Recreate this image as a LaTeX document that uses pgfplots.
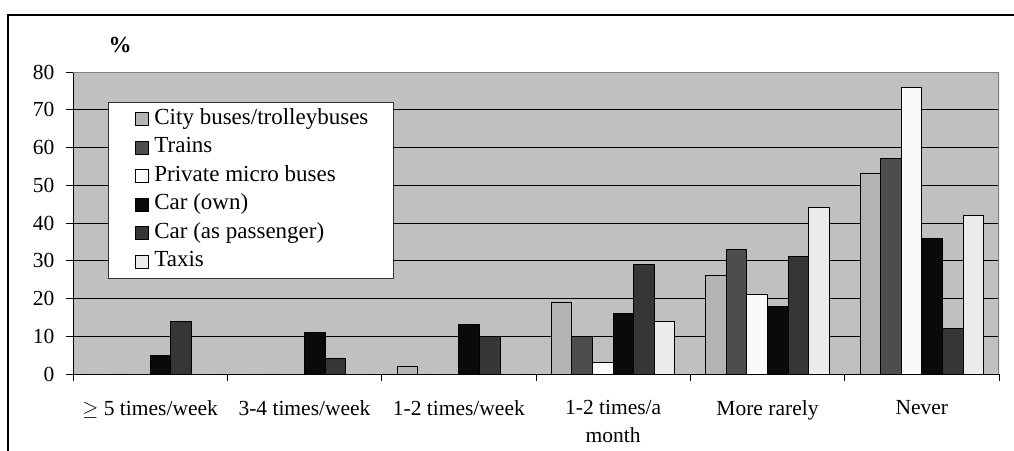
\documentclass[border=0pt]{standalone}
\usepackage{pgfplots}
\pgfplotsset{compat=1.18}
\usepackage{fontspec}
\setmainfont{Liberation Serif}

\definecolor{plotbg}{HTML}{C0C0C0}
\definecolor{cCity}{HTML}{B4B4B4}
\definecolor{cTrain}{HTML}{4D4D4D}
\definecolor{cPriv}{HTML}{FAFAFA}
\definecolor{cOwn}{HTML}{0A0A0A}
\definecolor{cPass}{HTML}{363636}
\definecolor{cTaxi}{HTML}{EBEBEB}

\newcommand{\chartfont}{\fontsize{21.5bp}{28bp}\selectfont}
\newcommand{\legfont}{\fontsize{23bp}{28bp}\selectfont}

\pgfplotsset{
  sqlegend/.style={legend image code/.code={
    \path[draw=none, fill=none] (0bp,0bp) -- (43bp,0bp);
    \draw[##1, line width=0.8bp] (27bp,-6.5bp) rectangle (40bp,6.5bp);}},
}

\begin{document}
\begin{tikzpicture}
\useasboundingbox (-73bp,-77bp) rectangle (941bp,374bp);
\begin{axis}[
  scale only axis,
  width=926bp, height=302bp,
  at={(0,0)}, anchor=south west,
  ybar=0pt, bar width=20.6bp,
  xmin=-0.5, xmax=5.5,
  ymin=0, ymax=80,
  ytick={0,10,...,80},
  xtick={-0.5,0.5,...,5.5},
  x tick label as interval,
  xticklabels={{$\geq$ 5 times/week},{3-4 times/week},{1-2 times/week},{1-2 times/a\\month},{More rarely},{Never}},
  xticklabel style={align=center, font=\chartfont, yshift=-16bp},
  yticklabel style={font=\chartfont, xshift=-8bp},
  /pgf/number format/assume math mode=true,
  tick align=outside,
  major tick length=7bp,
  tick style={black, line width=0.8bp},
  axis x line*=bottom,
  axis y line*=left,
  axis line style={black, line width=0.8bp, -},
  ymajorgrids,
  major grid style={black, line width=0.9bp},
  axis background/.style={fill=plotbg},
  legend cell align=left,
  legend style={at={(0.0378,0.9007)}, anchor=north west,
    draw=black!80, fill=white, line width=0.8bp,
    font=\legfont, row sep=6.5bp,
    inner xsep=0bp, inner ysep=6bp,
    nodes={text height=14bp, text depth=4bp, inner xsep=3bp}},
  every axis plot/.append style={draw=black, line width=1bp},
]
\addplot[fill=cCity, sqlegend] coordinates {(0,0) (1,0) (2,2) (3,19) (4,26) (5,53)};
\addplot[fill=cTrain, sqlegend] coordinates {(0,0) (1,0) (2,0) (3,10) (4,33) (5,57)};
\addplot[fill=cPriv, sqlegend] coordinates {(0,0) (1,0) (2,0) (3,3) (4,21) (5,76)};
\addplot[fill=cOwn, sqlegend] coordinates {(0,5) (1,11) (2,13) (3,16) (4,18) (5,36)};
\addplot[fill=cPass, sqlegend] coordinates {(0,14) (1,4) (2,10) (3,29) (4,31) (5,12)};
\addplot[fill=cTaxi, sqlegend] coordinates {(0,0) (1,0) (2,0) (3,14) (4,44) (5,42)};
\legend{City buses/trolleybuses\rule{22bp}{0pt}, Trains, Private micro buses, Car (own), Car (as passenger), Taxis}
\draw[black!50, line width=1.2bp] (rel axis cs:0,1) -- (rel axis cs:1,1) -- (rel axis cs:1,0);
\end{axis}
\draw[black, line width=1.5bp] (-65bp,-77bp) -- (-65bp,359bp) -- (941bp,359bp);
\node[font=\legfont\bfseries] at (47bp,329bp) {\%};
\end{tikzpicture}
\end{document}
